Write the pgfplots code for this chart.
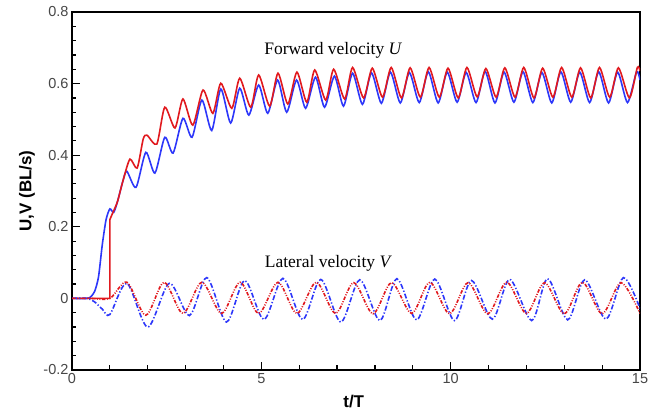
\documentclass[border=0pt]{standalone}
\usepackage{fontspec}
\setmainfont{Liberation Serif}
\setsansfont{Liberation Sans}
\usepackage{pgfplots}
\pgfplotsset{compat=1.18}
\definecolor{cred}{RGB}{225,25,30}
\definecolor{cblue}{RGB}{45,55,250}
\begin{document}
\begin{tikzpicture}
\begin{axis}[
 scale only axis, width=568pt, height=358pt,
 xmin=0, xmax=15, ymin=-0.2, ymax=0.8,
 xtick={0,5,10,15}, ytick={-0.2,0,0.2,0.4,0.6,0.8},
 minor x tick num=4, minor y tick num=4,
 tick align=inside, xtick pos=bottom, ytick pos=left,
 major tick length=8pt, minor tick length=4.5pt,
 every tick/.style={black, line width=1.2pt},
 axis line style={line width=1.3pt},
 ticklabel style={font=\sffamily\fontsize{14.5}{16}\selectfont, text=black!72},
 /pgf/number format/assume math mode=true,
 yticklabel style={/pgf/number format/fixed, /pgf/number format/precision=1},
 xlabel={t/T}, ylabel={U,V (BL/s)},
 label style={font=\sffamily\bfseries\fontsize{17}{20}\selectfont},
 xlabel style={at={(axis description cs:0.496,-0.106)}, anchor=base},
 ylabel style={at={(axis description cs:-0.0792,0.5)}, anchor=center},
]
\coordinate (sw) at (rel axis cs:0,0);
\coordinate (ne) at (rel axis cs:1,1);
% Blue U
\addplot[cblue, line width=1.6pt, smooth, tension=0.42] coordinates {
(0,0) (0.4,0) (0.5,0.005) (0.6,0.02) (0.7,0.06) (0.8,0.15) (0.9,0.22) (1.0,0.25) (1.1,0.24) (1.2,0.27) (1.35,0.33) (1.45,0.355)
(1.69,0.31) (1.95,0.408) (2.19,0.35) (2.45,0.45) (2.67,0.406) (2.93,0.503) (3.17,0.45) (3.43,0.554) (3.69,0.469) (3.93,0.585)
(4.19,0.49) (4.43,0.587) (4.67,0.512) (4.93,0.596) (5.17,0.517) (5.43,0.61) (5.67,0.52) (5.93,0.61) (6.17,0.531) (6.43,0.618)
(6.67,0.534) (6.93,0.621) (7.17,0.537) (7.41,0.629) (7.67,0.542) (7.91,0.63) (8.17,0.545) (8.41,0.632) (8.67,0.546) (8.91,0.631)
(9.17,0.547) (9.41,0.633) (9.67,0.546) (9.91,0.632) (10.17,0.548) (10.41,0.631) (10.67,0.547) (10.91,0.634) (11.17,0.546)
(11.41,0.632) (11.67,0.548) (11.91,0.633) (12.17,0.547) (12.41,0.631) (12.67,0.546) (12.91,0.633) (13.17,0.548) (13.41,0.632)
(13.67,0.547) (13.91,0.633) (14.17,0.546) (14.41,0.632) (14.67,0.547) (14.91,0.633) (15,0.61)
};
% Red U
\addplot[cred, line width=1.6pt] coordinates {(0,0) (1.0,0) (1.0,0.22) (1.08,0.24)};
\addplot[cred, line width=1.6pt, smooth, tension=0.42] coordinates {
(1.08,0.24) (1.2,0.27) (1.35,0.33) (1.53,0.389) (1.72,0.364) (1.88,0.445) (1.98,0.456) (2.24,0.431) (2.45,0.534)
(2.72,0.476) (2.93,0.557) (3.19,0.484) (3.46,0.582) (3.72,0.517) (3.93,0.601) (4.22,0.531) (4.43,0.615) (4.72,0.534)
(4.93,0.624) (5.22,0.537) (5.44,0.629) (5.7,0.543) (5.94,0.632) (6.2,0.548) (6.41,0.638) (6.7,0.554) (6.91,0.64)
(7.2,0.557) (7.41,0.645) (7.7,0.56) (7.93,0.643) (8.2,0.562) (8.43,0.645) (8.7,0.56) (8.93,0.644) (9.2,0.562) (9.43,0.645)
(9.7,0.562) (9.93,0.643) (10.2,0.56) (10.43,0.645) (10.7,0.563) (10.93,0.642) (11.2,0.562) (11.43,0.644) (11.7,0.562)
(11.93,0.645) (12.2,0.56) (12.43,0.643) (12.7,0.562) (12.93,0.645) (13.2,0.562) (13.43,0.644) (13.7,0.56) (13.93,0.645)
(14.2,0.562) (14.43,0.644) (14.72,0.56) (14.93,0.645) (15,0.635)
};
% Blue V
\addplot[cblue, line width=1.6pt, smooth, tension=0.5, dash pattern=on 5pt off 2pt on 1.3pt off 2pt] coordinates {
(0,0) (0.4,0) (0.6,-0.01) (0.8,-0.03) (1.0,-0.045) (1.45,0.042) (2.0,-0.08) (2.57,0.042) (3.1,-0.048) (3.56,0.058)
(4.08,-0.066) (4.56,0.05) (5.07,-0.059) (5.57,0.056) (6.09,-0.059) (6.57,0.053) (7.1,-0.066) (7.6,0.052) (8.13,-0.062)
(8.58,0.055) (9.1,-0.06) (9.58,0.054) (10.1,-0.062) (10.55,0.05) (11.1,-0.058) (11.56,0.053) (12.14,-0.062) (12.56,0.055)
(13.09,-0.06) (13.54,0.052) (14.1,-0.058) (14.56,0.058) (15,-0.028)
};
% Red V
\addplot[cred, line width=1.6pt, smooth, tension=0.5, dash pattern=on 3.5pt off 1.5pt on 1pt off 1.5pt on 1pt off 1.5pt] coordinates {
(0,0) (0.5,0) (1.0,0) (1.45,0.045) (1.95,-0.047) (2.43,0.045) (2.93,-0.042) (3.43,0.045) (3.95,-0.042) (4.44,0.045)
(4.93,-0.042) (5.44,0.045) (5.94,-0.042) (6.45,0.045) (6.96,-0.042) (7.44,0.044) (7.95,-0.043) (8.44,0.044) (8.97,-0.042)
(9.45,0.045) (9.97,-0.043) (10.46,0.044) (10.98,-0.043) (11.48,0.045) (12.0,-0.042) (12.48,0.044) (13.0,-0.043)
(13.48,0.045) (14.0,-0.043) (14.5,0.044) (15,-0.042)
};
\node[anchor=base, font=\fontsize{17.5}{20}\selectfont] at (axis cs:6.9,0.68) {Forward velocity \textit{U}};
\node[anchor=base, font=\fontsize{17.5}{20}\selectfont] at (axis cs:6.77,0.087) {Lateral velocity \textit{V}};
\end{axis}
\pgfresetboundingbox
\path[use as bounding box] ([xshift=-72pt,yshift=-47pt]sw) rectangle ([xshift=10pt,yshift=12pt]ne);
\end{tikzpicture}
\end{document}
